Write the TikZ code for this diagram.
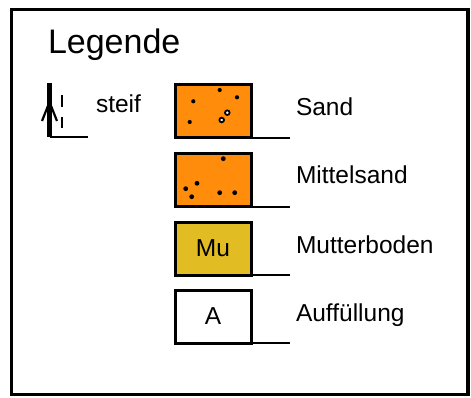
\documentclass[tikz,border=0pt]{standalone}
\usepackage{fontspec}
\setmainfont{Liberation Sans}
\usetikzlibrary{arrows.meta, positioning, calc}

\begin{document}
\begin{tikzpicture}[
    x=1pt, y=-1pt,
    every node/.style={font=\fontsize{24.5}{27}\selectfont, inner sep=0pt, outer sep=0pt},
    legbox/.style={
        draw, line width=3pt,
        minimum width=76pt, minimum height=53pt,
        anchor=north west
    },
    legtext/.style={anchor=base west},
    baseline/.style={line width=1.2pt},
    grain/.style={fill=black},
    ringgrain/.style={draw=black, line width=1.8pt, fill=white}
]
\useasboundingbox (0,0) rectangle (471,398);

% Frame
\draw[line width=3.8pt] (11.5,9.5) rectangle (468,394.5);

% Title
\node[font=\fontsize{34}{37}\selectfont, anchor=base west] (title) at (48,54) {Legende};

% Steif symbol
\coordinate (stop) at (49.5,83);
\coordinate (sfoot) at (49.5,137);
\coordinate (send) at (88,137);
\draw[line width=4.5pt] (stop) -- (sfoot);
\draw[line width=1.6pt] (sfoot) -- (send);
\draw[line width=2.2pt] (42,121) -- (49.5,102) -- (57,121);
\draw[line width=1.6pt] (62,95) -- (62,107);
\draw[line width=1.6pt] (62,117) -- (62,128);
\node[legtext] (steif) at (96,113) {steif};

% Boxes
\node[legbox, fill={rgb,255:red,255;green,140;blue,10}] (sand) at (175,85) {};
\node[legbox, fill={rgb,255:red,255;green,140;blue,10}] (msand) at (175,154) {};
\node[legbox, fill={rgb,255:red,225;green,188;blue,34}] (mu) at (175,222) {};
\node[legbox, fill=white] (auff) at (175,290) {};
\node at (mu.center) {Mu};
\node at (auff.center) {A};

% Grains
\foreach \p in {(219.7,90),(237,97.3),(193.3,101.3),(189.7,122)}
    \fill[grain] \p circle (2.1);
\foreach \p in {(227.3,112.7),(221.7,120)}
    \draw[ringgrain] \p circle (2.3);
\foreach \p in {(223.3,158.7),(197,183.3),(185.7,188.7),(191.7,196.7),(219.7,192.7),(234.7,192.7)}
    \fill[grain] \p circle (2.4);

% Base lines
\draw[baseline] (sand.south east) -- ++(39,0) coordinate (sandend);
\draw[baseline] (msand.south east) -- ++(39,0) coordinate (msandend);
\draw[baseline] (mu.south east) -- ++(39,0) coordinate (muend);
\draw[baseline] (auff.south east) -- ++(39,0) coordinate (auffend);

% Labels
\node[legtext] (sandtxt) at (296,116) {Sand};
\node[legtext] (msandtxt) at (296,184) {Mittelsand};
\node[legtext] (mutxt) at (296,253) {Mutterboden};
\node[legtext] (aufftxt) at (296,321) {Auffüllung};

\end{tikzpicture}
\end{document}
